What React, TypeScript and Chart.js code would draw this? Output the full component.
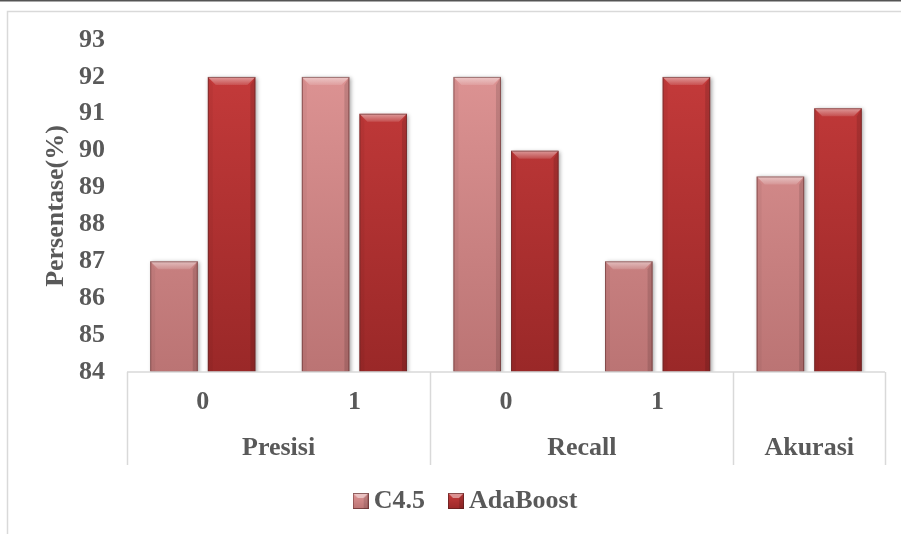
import React, { useEffect, useRef } from 'react';
import { Chart, registerables } from 'chart.js';

Chart.register(...registerables);

// ---- data ----
const subLabels = ['0', '1', '0', '1', ''];
const groupLabels = ['Presisi', 'Recall', 'Akurasi'];
const groupSpans = [2, 2, 1];
const seriesNames = ['C4.5', 'AdaBoost'];
const c45Values = [87, 92, 92, 87, 89.3];
const adaBoostValues = [92, 91, 90, 92, 91.15];
const yMin = 84;
const yMax = 93;
const yStep = 1;
const yTitle = 'Persentase(%)';

// ---- style ----
const FONT = "'Liberation Serif', 'Times New Roman', serif";
const TEXT = '#595959';
const C45_TOP = '#e09696';
const C45_BOTTOM = '#bb7474';
const ADA_TOP = '#c83c3c';
const ADA_BOTTOM = '#9a2828';

function grad(top: string, bottom: string) {
  return (ctx: any) => {
    const chart = ctx.chart;
    const a = chart.chartArea;
    if (!a) return top;
    const g = chart.ctx.createLinearGradient(0, a.top, 0, a.bottom);
    g.addColorStop(0, top);
    g.addColorStop(1, bottom);
    return g;
  };
}

function makeIcon(top: string, bottom: string) {
  const cv = document.createElement('canvas');
  cv.width = 16;
  cv.height = 16;
  const g = cv.getContext('2d')!;
  const gr = g.createLinearGradient(0, 0, 0, 16);
  gr.addColorStop(0, top);
  gr.addColorStop(1, bottom);
  g.fillStyle = gr;
  g.fillRect(0, 0, 16, 16);
  g.fillStyle = 'rgba(255,255,255,0.45)';
  g.beginPath();
  g.moveTo(0, 0); g.lineTo(16, 0); g.lineTo(11, 5); g.lineTo(5, 5); g.closePath();
  g.fill();
  g.fillStyle = 'rgba(0,0,0,0.12)';
  g.beginPath();
  g.moveTo(16, 0); g.lineTo(16, 16); g.lineTo(11, 16); g.lineTo(11, 5); g.closePath();
  g.fill();
  g.strokeStyle = 'rgba(80,30,30,0.6)';
  g.lineWidth = 1;
  g.strokeRect(0.5, 0.5, 15, 15);
  return cv;
}

const framePlugin = {
  id: 'frame',
  beforeDraw(chart: any) {
    const c = chart.ctx;
    const w = chart.width;
    const h = chart.height;
    c.save();
    c.fillStyle = '#ffffff';
    c.fillRect(0, 0, w, h);
    c.strokeStyle = '#d9d9d9';
    c.lineWidth = 1.5;
    c.beginPath();
    c.moveTo(7.5, h);
    c.lineTo(7.5, 11.5);
    c.lineTo(w, 11.5);
    c.stroke();
    c.strokeStyle = '#555555';
    c.lineWidth = 1.5;
    c.beginPath();
    c.moveTo(0, 0.75);
    c.lineTo(w, 0.75);
    c.stroke();
    c.restore();
  },
};

const bevelPlugin = {
  id: 'bevel',
  beforeDatasetsDraw(chart: any) {
    const c = chart.ctx;
    c.save();
    c.shadowColor = 'rgba(0,0,0,0.35)';
    c.shadowBlur = 4;
    c.shadowOffsetX = 1.5;
    c.shadowOffsetY = 1;
  },
  afterDatasetsDraw(chart: any) {
    const c = chart.ctx;
    c.restore();
    const a = chart.chartArea;
    chart.data.datasets.forEach((_ds: any, di: number) => {
      const meta = chart.getDatasetMeta(di);
      meta.data.forEach((el: any) => {
        const { x, y, base, width } = el.getProps(['x', 'y', 'base', 'width'], true);
        const l = x - width / 2;
        const r = x + width / 2;
        const t = Math.max(a.top, Math.min(y, base));
        const b = Math.min(a.bottom, Math.max(y, base));
        const bv = 8;
        c.save();
        const tg = c.createLinearGradient(0, t, 0, t + bv);
        tg.addColorStop(0, 'rgba(255,255,255,0.5)');
        tg.addColorStop(1, 'rgba(255,255,255,0.12)');
        c.fillStyle = tg;
        c.beginPath();
        c.moveTo(l, t); c.lineTo(r, t); c.lineTo(r - bv, t + bv); c.lineTo(l + bv, t + bv); c.closePath();
        c.fill();
        c.fillStyle = 'rgba(0,0,0,0.04)';
        c.beginPath();
        c.moveTo(l, t); c.lineTo(l + 5, t + bv); c.lineTo(l + 5, b); c.lineTo(l, b); c.closePath();
        c.fill();
        c.fillStyle = 'rgba(0,0,0,0.12)';
        c.beginPath();
        c.moveTo(r, t); c.lineTo(r, b); c.lineTo(r - 5, b); c.lineTo(r - 5, t + bv); c.closePath();
        c.fill();
        c.strokeStyle = 'rgba(90,40,40,0.55)';
        c.lineWidth = 1;
        c.strokeRect(l + 0.5, t + 0.5, width - 1, b - t - 1);
        c.restore();
      });
    });
  },
};

const groupAxisPlugin = {
  id: 'groupAxis',
  afterDraw(chart: any) {
    const c = chart.ctx;
    const xs = chart.scales.x;
    const a = chart.chartArea;
    const n = subLabels.length;
    const px = (i: number) => xs.getPixelForValue(i);
    const edge = (i: number) => (i <= 0 ? a.left : i >= n ? a.right : (px(i - 1) + px(i)) / 2);
    c.save();
    c.strokeStyle = '#d9d9d9';
    c.lineWidth = 1.5;
    c.beginPath();
    c.moveTo(a.left, a.bottom);
    c.lineTo(a.right, a.bottom);
    const bounds = [0];
    let acc = 0;
    groupSpans.forEach((s) => { acc += s; bounds.push(acc); });
    bounds.forEach((bi) => {
      const xx = Math.round(edge(bi)) + 0.5;
      c.moveTo(xx, a.bottom);
      c.lineTo(xx, a.bottom + 93);
    });
    c.stroke();
    c.fillStyle = TEXT;
    c.font = `bold 26px ${FONT}`;
    c.textAlign = 'center';
    c.textBaseline = 'middle';
    subLabels.forEach((t, i) => c.fillText(t, px(i), a.bottom + 30));
    let start = 0;
    groupLabels.forEach((g, gi) => {
      const end = start + groupSpans[gi];
      const cx = (edge(start) + edge(end)) / 2;
      c.fillText(g, cx, a.bottom + 76);
      start = end;
    });
    c.restore();
  },
};

export default function App() {
  const ref = useRef<HTMLCanvasElement | null>(null);

  useEffect(() => {
    if (!ref.current) return;
    const icons = [makeIcon(C45_TOP, C45_BOTTOM), makeIcon(ADA_TOP, ADA_BOTTOM)];
    const font = { family: FONT, size: 26, weight: 'bold' as const };
    const chart = new Chart(ref.current, {
      type: 'bar',
      data: {
        labels: subLabels,
        datasets: [
          {
            label: seriesNames[0],
            data: c45Values,
            backgroundColor: grad(C45_TOP, C45_BOTTOM) as any,
            borderWidth: 0,
            categoryPercentage: 0.76,
            barPercentage: 0.825,
          },
          {
            label: seriesNames[1],
            data: adaBoostValues,
            backgroundColor: grad(ADA_TOP, ADA_BOTTOM) as any,
            borderWidth: 0,
            categoryPercentage: 0.76,
            barPercentage: 0.825,
          },
        ],
      },
      options: {
        responsive: false,
        animation: false,
        devicePixelRatio: 1,
        layout: { padding: { left: 53, right: 16, top: 40, bottom: 10 } },
        scales: {
          x: {
            grid: { display: false },
            border: { display: false },
            ticks: { display: false },
            afterFit: (s: any) => { s.height = 85; },
          },
          y: {
            min: yMin,
            max: yMax,
            ticks: { stepSize: yStep, padding: 22, color: TEXT, font },
            grid: { display: false, drawTicks: false },
            border: { display: false },
            title: {
              display: true,
              text: yTitle,
              color: TEXT,
              font,
              padding: { top: -12, bottom: 0 },
            },
            afterFit: (s: any) => { s.width = 74; },
          },
        },
        plugins: {
          tooltip: { enabled: false },
          legend: {
            position: 'bottom',
            labels: {
              usePointStyle: true,
              boxWidth: 0.01,
              padding: 31,
              color: TEXT,
              font,
              generateLabels: (ch: any) => {
                const items = (Chart.defaults.plugins.legend.labels as any).generateLabels(ch);
                items.forEach((it: any, i: number) => { it.pointStyle = icons[i]; });
                return items;
              },
            },
          },
        },
      },
      plugins: [framePlugin, bevelPlugin, groupAxisPlugin],
    });
    return () => chart.destroy();
  }, []);

  return (
    <div style={{ position: 'absolute', left: 0, top: 0, width: 901, height: 534, background: '#fff' }}>
      <canvas ref={ref} width={901} height={534} style={{ width: 901, height: 534, display: 'block' }} />
    </div>
  );
}
